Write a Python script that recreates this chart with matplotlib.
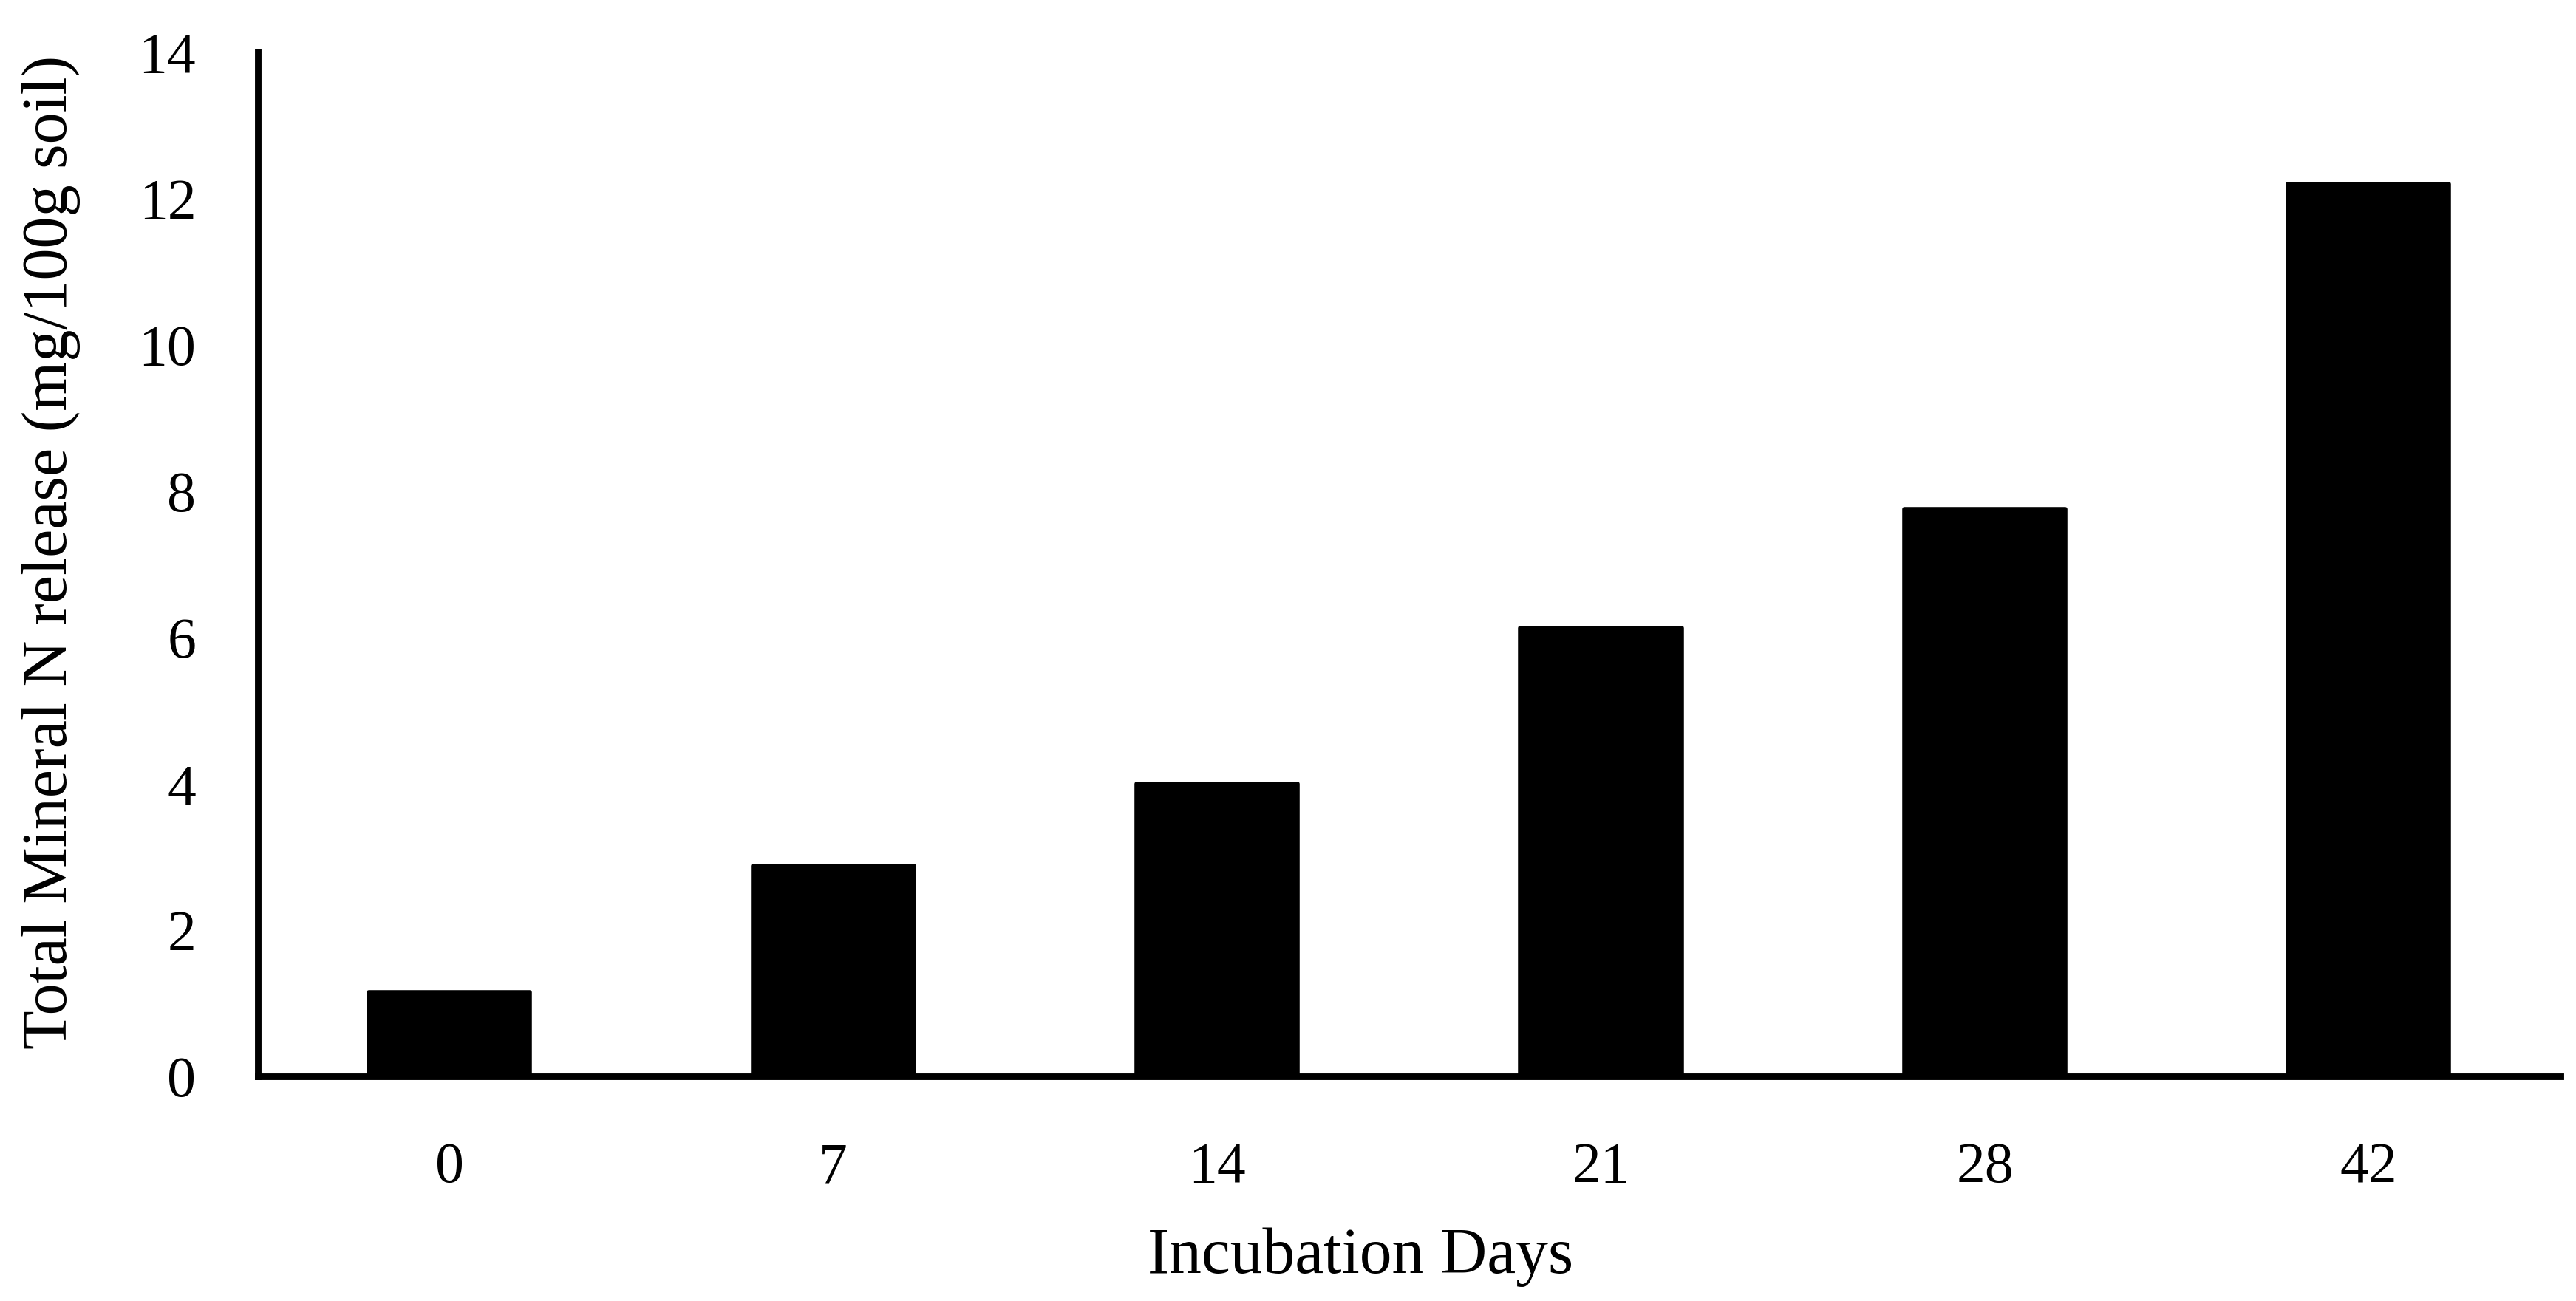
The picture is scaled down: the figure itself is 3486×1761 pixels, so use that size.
import numpy as np
import matplotlib.pyplot as plt

days = ["0", "7", "14", "21", "28", "42"]
mineral_n = [1.15, 2.88, 4.0, 6.13, 7.75, 12.2]
y_ticks = [0, 2, 4, 6, 8, 10, 12, 14]

plt.rcParams["font.family"] = ["Liberation Serif", "DejaVu Serif"]

fig = plt.figure(figsize=(17.435, 8.805), dpi=200)
ax = fig.add_axes([0.100, 0.1726, 0.8937, 0.7874])

x = np.arange(len(days))
ax.bar(x, mineral_n, width=0.42, color="black", edgecolor="black",
       linewidth=2, joinstyle="round", zorder=3)

ax.set_xlim(-0.5, len(days) - 0.5)
ax.set_ylim(0, 14)
ax.set_xticks(x)
ax.set_xticklabels(days)
ax.set_yticks(y_ticks)

for side in ["top", "right"]:
    ax.spines[side].set_visible(False)
for side in ["left", "bottom"]:
    ax.spines[side].set_linewidth(3.2)
    ax.spines[side].set_color("black")
    ax.spines[side].set_zorder(4)

ax.tick_params(axis="both", length=0, labelsize=28)
ax.tick_params(axis="y", pad=30)
ax.tick_params(axis="x", pad=32)

ax.set_xlabel("Incubation Days", fontsize=31.5)
ax.set_ylabel("Total Mineral N release (mg/100g soil)", fontsize=31)
ax.xaxis.set_label_coords(0.479, -0.147)
ax.yaxis.set_label_coords(-0.077, 0.512)

fig.savefig("out.png", dpi=200, facecolor="white")
